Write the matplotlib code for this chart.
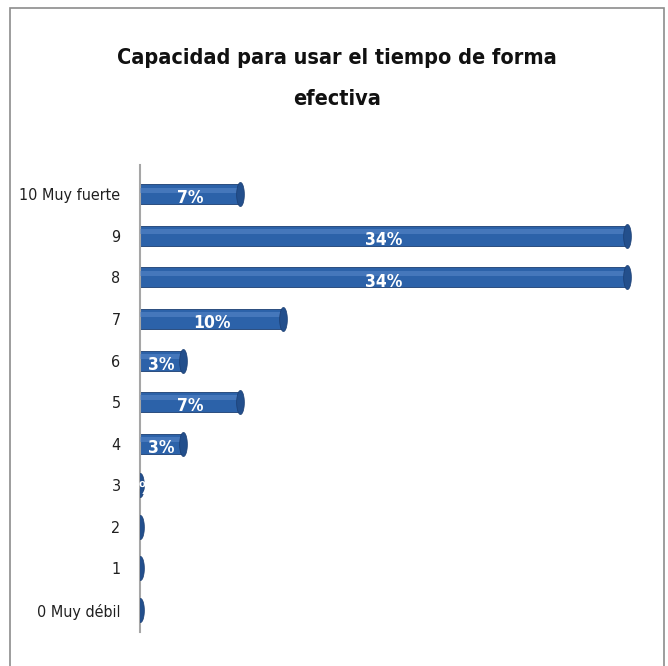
import numpy as np
import matplotlib
matplotlib.use("Agg")
import matplotlib.pyplot as plt
from matplotlib import font_manager
from matplotlib.patches import Rectangle
from matplotlib.path import Path

# datos
categorias = ["0 Muy débil", "1", "2", "3", "4", "5", "6", "7", "8", "9", "10 Muy fuerte"]
porcentajes = [0, 0, 0, 0, 3, 7, 3, 10, 34, 34, 7]
etiquetas = ["", "", "", "0%", "3%", "7%", "3%", "10%", "34%", "34%", "7%"]
titulo = "Capacidad para usar el tiempo de forma\nefectiva"

# fuente estrecha si existe
fuente = "Liberation Sans Narrow"
if fuente not in {f.name for f in font_manager.fontManager.ttflist}:
    fuente = "DejaVu Sans"
plt.rcParams["font.family"] = [fuente, "DejaVu Sans"]
plt.rcParams["font.stretch"] = "condensed"

fig = plt.figure(figsize=(6.68, 6.66), dpi=100)
ax = fig.add_axes([0.2096, 0.051, 0.75, 0.701])

y = np.arange(len(categorias))
azul = "#2c62a9"
oscuro = "#1b3e72"

ax.barh(y, porcentajes, height=0.48, color=azul, edgecolor=oscuro, linewidth=0.6, zorder=2)
# brillo superior del cilindro
ax.barh(y + 0.1, porcentajes, height=0.12, color="#5a8acb", alpha=0.55, linewidth=0, zorder=3)

# tapas elipticas al final de cada barra
t = np.linspace(0, 2 * np.pi, 40)
elipse = Path(np.column_stack([0.32 * np.cos(t), np.sin(t)]))
ax.scatter(porcentajes, y, marker=elipse, s=300, color="#234f8c", edgecolors=oscuro,
           linewidths=0.5, zorder=4)

for yi, v, lab in zip(y, porcentajes, etiquetas):
    if not lab:
        continue
    ax.text(max(v / 2, 0.1), yi - 0.1, lab, ha="center", va="center", color="white",
            fontsize=12.5, fontweight="semibold", zorder=5)

ax.set_xlim(0, 35)
ax.set_ylim(-0.53, 10.7)
ax.set_yticks(y)
ax.set_yticklabels(categorias, fontsize=11.5, color="#202020")
ax.tick_params(axis="y", length=0, pad=14)
ax.set_xticks([])
for s in ["top", "right", "bottom"]:
    ax.spines[s].set_visible(False)
ax.spines["left"].set_color("#a6a6a6")
ax.spines["left"].set_linewidth(1.5)

fig.text(0.505, 0.882, titulo, ha="center", va="center", fontsize=15.5,
         fontweight="bold", linespacing=2.35, color="#111111")

# marco del grafico
fig.add_artist(Rectangle((0.015, -0.02), 0.979, 1.008, transform=fig.transFigure,
                         fill=False, edgecolor="#8c8c8c", linewidth=1.2))

fig.savefig("out.png", dpi=100)
